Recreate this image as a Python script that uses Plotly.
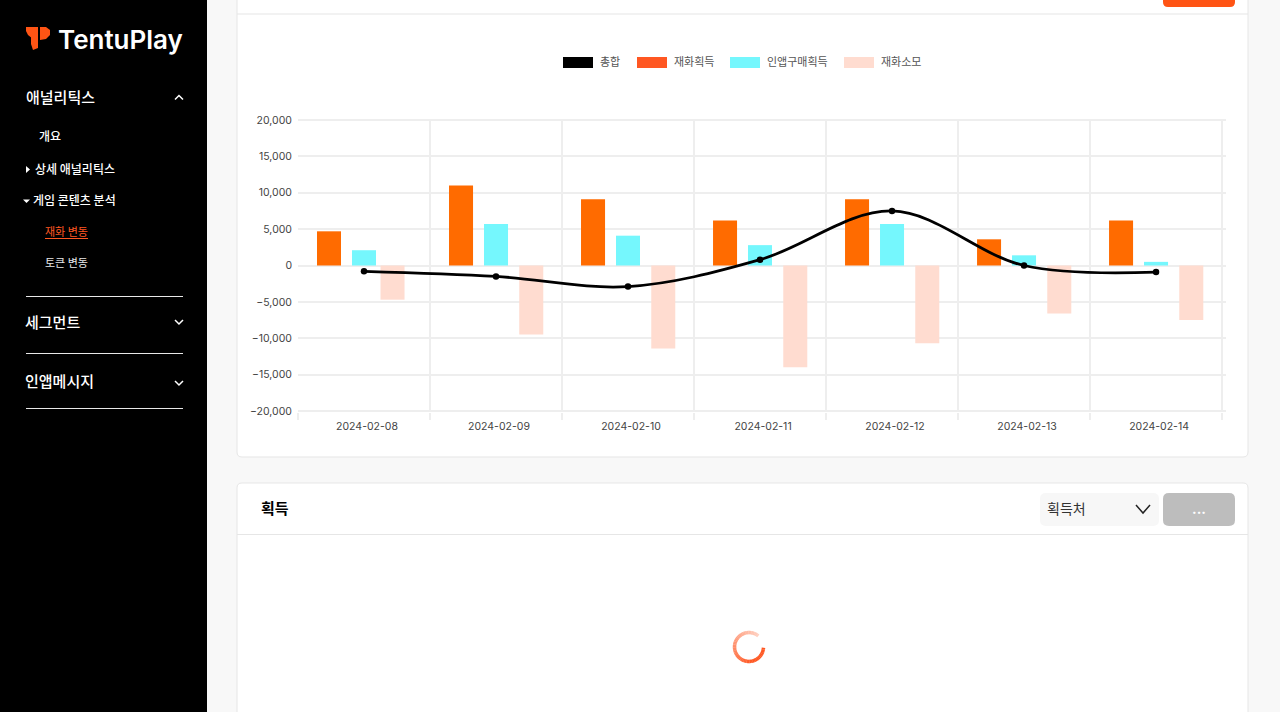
import numpy as np
import plotly.graph_objects as go

W, H = 1280, 712

#Chart data
dates = ['2024-02-08', '2024-02-09', '2024-02-10', '2024-02-11', '2024-02-12', '2024-02-13', '2024-02-14']
gain = [4700, 11000, 9100, 6200, 9100, 3600, 6200]
iap = [2100, 5700, 4100, 2800, 5700, 1400, 500]
spend = [-4700, -9500, -11400, -14000, -10700, -6600, -7500]
total = [-800, -1500, -2900, 800, 7500, 0, -900]
y_ticks = [-20000, -15000, -10000, -5000, 0, 5000, 10000, 15000, 20000]

legend_names = ['총합', '재화획득', '인앱구매획득', '재화소모']
legend_colors = ['#000000', '#FF5722', '#75F7FD', '#FFDCD0']
legend_x = [563, 637, 730, 844]

FONT = 'Inter, "Noto Sans CJK KR", sans-serif'
KR = '"Noto Sans CJK KR", sans-serif'
GRID = '#EEEEEE'

#Page furniture is placed in pixels, these turn that into paper coordinates
def px(x):
    return x / W

def py(y):
    return 1 - y / H

def rect(x0, y0, x1, y1, fill, line=None):
    return dict(type='rect', xref='paper', yref='paper', x0=px(x0), x1=px(x1), y0=py(y0), y1=py(y1),
                fillcolor=fill, line=dict(color=line or fill, width=1 if line else 0), layer='below')

def round_rect(x0, y0, x1, y1, r, fill, line=None):
    pts = [('M', x0 + r, y0), ('L', x1 - r, y0), ('Q', x1, y0, x1, y0 + r), ('L', x1, y1 - r),
           ('Q', x1, y1, x1 - r, y1), ('L', x0 + r, y1), ('Q', x0, y1, x0, y1 - r), ('L', x0, y0 + r),
           ('Q', x0, y0, x0 + r, y0)]
    d = ''
    for p in pts:
        d += p[0] + ' ' + ' '.join(f'{px(p[i]):.5f},{py(p[i + 1]):.5f}' for i in range(1, len(p), 2)) + ' '
    return dict(type='path', xref='paper', yref='paper', path=d + 'Z', fillcolor=fill,
                line=dict(color=line or fill, width=1 if line else 0), layer='below')

def poly(points, color, width=1.5, fill=None):
    d = 'M ' + ' L '.join(f'{px(x):.5f},{py(y):.5f}' for x, y in points)
    if fill:
        d += ' Z'
    return dict(type='path', xref='paper', yref='paper', path=d, fillcolor=fill or 'rgba(0,0,0,0)',
                line=dict(color=color, width=width if not fill else 0), layer='above')

def label(x, y, text, size, color, font=KR, anchor='left', weight=400):
    #annotation boxes pad the text a little, hence the nudges
    return dict(xref='paper', yref='paper', x=px(x - 2 if anchor == 'left' else x), y=py(y - 0.7), text=text,
                showarrow=False, xanchor=anchor, yanchor='middle',
                font=dict(family=font, size=size, color=color, weight=weight))

#Bars are offset by hand because the first spend bar sits closer to its neighbours in the original
bar_w = 0.182
fig = go.Figure()
fig.add_trace(go.Bar(x=dates, y=gain, name='재화획득', marker_color='#FF6B00', marker_line_width=0,
                     width=bar_w, offset=-0.356))
fig.add_trace(go.Bar(x=dates, y=iap, name='인앱구매획득', marker_color='#75F7FD', marker_line_width=0,
                     width=bar_w, offset=-0.091))
fig.add_trace(go.Bar(x=dates, y=spend, name='재화소모', marker_color='#FFDCD0', marker_line_width=0,
                     width=bar_w, offset=[0.125, 0.176, 0.176, 0.176, 0.176, 0.176, 0.176]))
fig.add_trace(go.Scatter(x=dates, y=total, name='총합', mode='lines+markers',
                         line=dict(color='#000000', width=2.8, shape='spline', smoothing=1.0),
                         marker=dict(color='#000000', size=6.5)))

shapes = [
    #cards
    round_rect(237, -10, 1248, 457, 5, '#FFFFFF', '#E6E6E6'),
    round_rect(237, 483, 1248, 730, 5, '#FFFFFF', '#E6E6E6'),
    rect(237, 13.5, 1248, 14.5, '#E6E6E6'),
    rect(237, 534, 1248, 535, '#E6E6E6'),
    round_rect(1163, -8, 1235, 7, 5, '#FF5414'),
    round_rect(1040, 493, 1159, 526, 6, '#F7F7F7'),
    round_rect(1163, 493, 1235, 526, 6, '#BDBDBD'),
    #sidebar
    rect(0, 0, 207, H, '#000000'),
    rect(26, 296, 183, 297, '#E8E8E8'),
    rect(26, 353, 183, 354, '#E8E8E8'),
    rect(26, 408, 183, 409, '#E8E8E8'),
    #logo
    poly([(26, 27), (33, 27), (33, 39), (28, 35), (26, 31)], '#FF5414', fill='#FF5414'),
    poly([(31, 27), (38, 27), (38, 48), (33, 50), (31, 44)], '#FF5414', fill='#FF5414'),
    poly([(40, 27), (46, 27), (50, 30), (50, 35), (46, 39), (40, 40)], '#FF5414', fill='#FF5414'),
    #sidebar chevrons and carets
    poly([(175, 99.5), (179, 95.5), (183, 99.5)], '#FFFFFF'),
    poly([(175, 320), (179, 324), (183, 320)], '#FFFFFF'),
    poly([(175, 381), (179, 385), (183, 381)], '#FFFFFF'),
    poly([(26, 166), (30, 169.5), (26, 173)], '#FFFFFF', fill='#FFFFFF'),
    poly([(23, 199.5), (30, 199.5), (26.5, 203)], '#FFFFFF', fill='#FFFFFF'),
    rect(45, 238, 88, 239, '#FF5722'),
    #dropdown chevron
    poly([(1136, 505), (1143, 513), (1150, 505)], '#222222'),
]

#legend swatches
for x, c in zip(legend_x, legend_colors):
    shapes.append(rect(x, 57, x + 30, 68, c))

#loading spinner, short arc pieces fading from light to full orange
for a0 in range(50, 355, 6):
    a = np.radians([a0, a0 + 7])
    t = min((a0 - 50) / 230, 1)
    col = f'rgb(255,{int(208 - t * 121)},{int(192 - t * 158)})'
    shapes.append(poly([(749 + 14.5 * np.cos(v), 647 - 14.5 * np.sin(v)) for v in a], col, width=3.5))

annotations = [
    label(58, 40, 'TentuPlay', 26, '#FFFFFF', font=FONT, weight=600),
    label(26, 97, '애널리틱스', 15, '#FFFFFF', weight=500),
    label(39, 136, '개요', 12, '#FFFFFF', weight=500),
    label(35, 169, '상세 애널리틱스', 12, '#FFFFFF', weight=500),
    label(33, 200, '게임 콘텐츠 분석', 12, '#FFFFFF', weight=500),
    label(45, 232, '재화 변동', 11, '#FF5722'),
    label(45, 263, '토큰 변동', 11, '#E8E8E8'),
    label(25, 322, '세그먼트', 15, '#FFFFFF', weight=500),
    label(25, 381, '인앱메시지', 15, '#FFFFFF', weight=500),
    label(261, 508, '획득', 15, '#000000', weight=700),
    label(1047, 509, '획득처', 14, '#333333'),
    label(1199, 509, '...', 14, '#FFFFFF', font=FONT, anchor='center', weight=700),
]
for x, name in zip(legend_x, legend_names):
    annotations.append(label(x + 37, 62, name, 11, '#555555'))

fig.update_layout(
    width=W, height=H, margin=dict(l=0, r=0, t=0, b=0, autoexpand=False),
    paper_bgcolor='#F8F8F8', plot_bgcolor='rgba(0,0,0,0)',
    barmode='overlay',
    showlegend=False, shapes=shapes, annotations=annotations,
    font=dict(family=FONT, size=10.5, color='#444444'),
)
fig.update_xaxes(domain=[px(298), px(1226)], range=[-0.5, 6.53], type='category', tickson='boundaries',
                 showgrid=True, gridcolor=GRID, gridwidth=2, ticks='outside', ticklen=7, tickwidth=2,
                 tickcolor=GRID, zeroline=False, showline=False, ticklabelstandoff=6, ticklabelshift=3)
#range runs a hair past 20,000 so the outer grid lines still get drawn
fig.update_yaxes(domain=[py(412), py(119)], range=[-20140, 20140], tickvals=y_ticks, tickformat=',',
                 showgrid=True, gridcolor=GRID, gridwidth=2, zeroline=True, zerolinecolor=GRID,
                 zerolinewidth=2, ticks='', showline=False, ticklabelstandoff=5)

fig.write_html("out.html", config={'displayModeBar': False},
               post_script="document.body.style.margin='0';document.body.style.overflow='hidden';")
